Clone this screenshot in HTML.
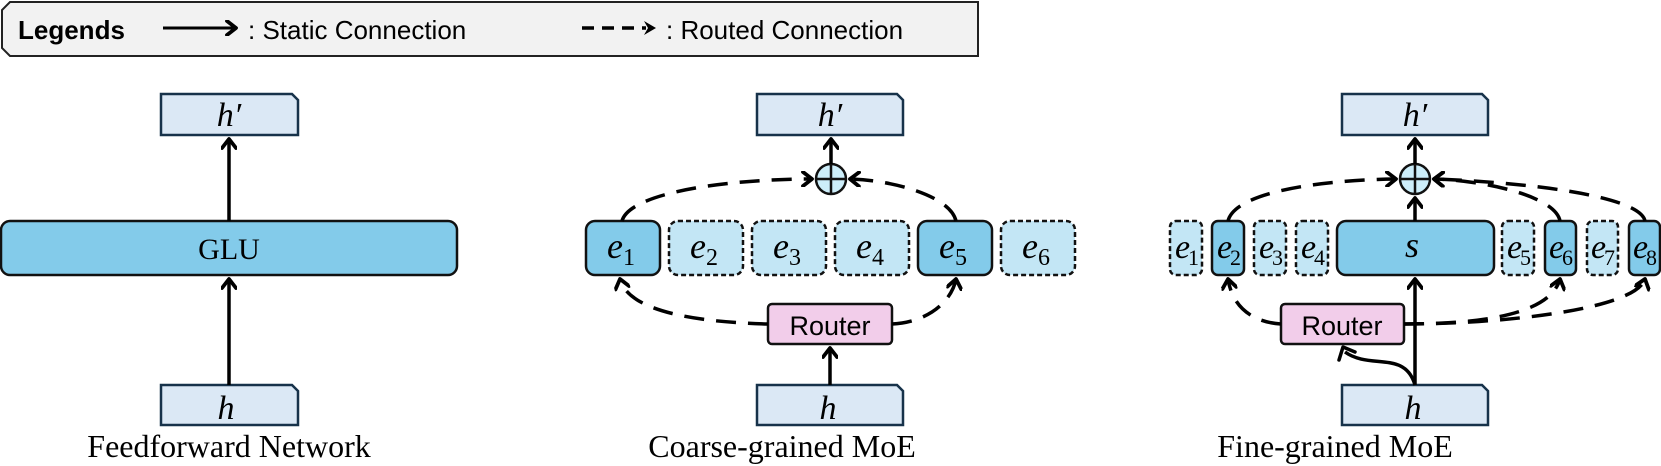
<!DOCTYPE html>
<html><head><meta charset="utf-8"><style>
html,body{margin:0;padding:0;background:#fff;}
svg{display:block}
.m{font-family:"Liberation Serif",serif;font-style:italic;}
.sub{font-family:"Liberation Serif",serif;font-style:normal;}
</style></head><body>
<svg width="1661" height="466" viewBox="0 0 1661 466" xmlns="http://www.w3.org/2000/svg">
<defs>
<marker id="a" markerWidth="16" markerHeight="16" refX="11" refY="8" orient="auto" markerUnits="userSpaceOnUse">
<path d="M2,1 L11,8 L2,15" fill="none" stroke="#000" stroke-width="3.8" stroke-linecap="round" stroke-linejoin="round"/>
</marker>
</defs>
<!-- legend -->
<path d="M10,2 L978,2 L978,56 L10,56 L2,48 L2,10 Z" fill="#f2f2f2" stroke="#222" stroke-width="2"/>
<text x="18" y="39" font-family="Liberation Sans,sans-serif" font-weight="bold" font-size="26">Legends</text>
<line x1="163" y1="28" x2="236" y2="28" stroke="#000" stroke-width="3" marker-end="url(#a)"/>
<text x="248" y="39" font-family="Liberation Sans,sans-serif" font-size="26">: Static Connection</text>
<line x1="582" y1="28" x2="646" y2="28" stroke="#000" stroke-width="3.5" stroke-dasharray="12,8"/>
<path d="M644,21 L656,28 L644,35 L648,28 Z" fill="#000"/>
<text x="666" y="39" font-family="Liberation Sans,sans-serif" font-size="26">: Routed Connection</text>

<g stroke="#17324a" stroke-width="2.5" fill="#dbe8f5">
<path d="M161,94 L292,94 L298,100 L298,135 L161,135 Z"/>
<path d="M161,385 L292,385 L298,391 L298,425 L161,425 Z"/>
<path d="M757,94 L897,94 L903,100 L903,135 L757,135 Z"/>
<path d="M757,385 L897,385 L903,391 L903,425 L757,425 Z"/>
<path d="M1342,94 L1482,94 L1488,100 L1488,135 L1342,135 Z"/>
<path d="M1342,385 L1482,385 L1488,391 L1488,425 L1342,425 Z"/>
</g>
<g class="m" font-size="34" text-anchor="middle">
<text x="229" y="126">h′</text><text x="226" y="419">h</text>
<text x="830" y="126">h′</text><text x="828" y="419">h</text>
<text x="1415" y="126">h′</text><text x="1413" y="419">h</text>
</g>

<!-- FFN -->
<rect x="1" y="221" width="456" height="54" rx="9" fill="#83cbea" stroke="#111" stroke-width="2.5"/>
<text x="229" y="259" text-anchor="middle" font-family="Liberation Serif,serif" font-size="30">GLU</text>
<line x1="229" y1="221" x2="229" y2="139" stroke="#000" stroke-width="3.5" marker-end="url(#a)"/>
<line x1="229" y1="385" x2="229" y2="279" stroke="#000" stroke-width="3.5" marker-end="url(#a)"/>

<!-- Coarse -->
<g stroke="#111" stroke-width="2.5">
<rect x="586" y="221" width="74" height="54" rx="9" fill="#83cbea"/>
<rect x="669" y="221" width="74" height="54" rx="9" fill="#c3e6f5" stroke-dasharray="5,3"/>
<rect x="752" y="221" width="74" height="54" rx="9" fill="#c3e6f5" stroke-dasharray="5,3"/>
<rect x="835" y="221" width="74" height="54" rx="9" fill="#c3e6f5" stroke-dasharray="5,3"/>
<rect x="918" y="221" width="74" height="54" rx="9" fill="#83cbea"/>
<rect x="1001" y="221" width="74" height="54" rx="9" fill="#c3e6f5" stroke-dasharray="5,3"/>
</g>
<g font-size="36" text-anchor="middle">
<text x="621" y="258" class="m">e<tspan class="sub" font-size="24" dy="7">1</tspan></text>
<text x="704" y="258" class="m">e<tspan class="sub" font-size="24" dy="7">2</tspan></text>
<text x="787" y="258" class="m">e<tspan class="sub" font-size="24" dy="7">3</tspan></text>
<text x="870" y="258" class="m">e<tspan class="sub" font-size="24" dy="7">4</tspan></text>
<text x="953" y="258" class="m">e<tspan class="sub" font-size="24" dy="7">5</tspan></text>
<text x="1036" y="258" class="m">e<tspan class="sub" font-size="24" dy="7">6</tspan></text>
</g>
<rect x="768" y="304" width="124" height="40" rx="4" fill="#f2cdea" stroke="#111" stroke-width="2.5"/>
<text x="830" y="335" text-anchor="middle" font-family="Liberation Sans,sans-serif" font-size="27">Router</text>
<line x1="830" y1="385" x2="830" y2="348" stroke="#000" stroke-width="3.5" marker-end="url(#a)"/>
<circle cx="831" cy="179" r="15" fill="#cdeefa" stroke="#111" stroke-width="2.5"/>
<path d="M816,179 H846 M831,164 V194" stroke="#111" stroke-width="2.5"/>
<line x1="831" y1="164" x2="831" y2="139" stroke="#000" stroke-width="3.5" marker-end="url(#a)"/>
<g fill="none" stroke="#000" stroke-width="3.5" stroke-dasharray="20,12">
<path d="M622,221 C630,192 730,179 812,179" marker-end="url(#a)"/>
<path d="M956,221 C950,195 890,180 850,179" marker-end="url(#a)"/>
<path d="M768,324 C690,322 628,310 620,279" marker-end="url(#a)"/>
<path d="M892,324 C930,322 952,300 956,279" marker-end="url(#a)"/>
</g>

<!-- Fine -->
<g stroke="#111" stroke-width="2.5">
<rect x="1170" y="221" width="32" height="54" rx="6" fill="#c3e6f5" stroke-dasharray="5,3"/>
<rect x="1212" y="221" width="32" height="54" rx="6" fill="#83cbea"/>
<rect x="1254" y="221" width="32" height="54" rx="6" fill="#c3e6f5" stroke-dasharray="5,3"/>
<rect x="1296" y="221" width="32" height="54" rx="6" fill="#c3e6f5" stroke-dasharray="5,3"/>
<rect x="1337" y="221" width="157" height="54" rx="9" fill="#83cbea"/>
<rect x="1502" y="221" width="32" height="54" rx="6" fill="#c3e6f5" stroke-dasharray="5,3"/>
<rect x="1545" y="221" width="31" height="54" rx="6" fill="#83cbea"/>
<rect x="1587" y="221" width="31" height="54" rx="6" fill="#c3e6f5" stroke-dasharray="5,3"/>
<rect x="1629" y="221" width="31" height="54" rx="6" fill="#83cbea"/>
</g>
<g font-size="34" text-anchor="middle">
<text x="1186" y="258" class="m" letter-spacing="-2">e<tspan class="sub" font-size="22" dy="7">1</tspan></text>
<text x="1228" y="258" class="m" letter-spacing="-2">e<tspan class="sub" font-size="22" dy="7">2</tspan></text>
<text x="1270" y="258" class="m" letter-spacing="-2">e<tspan class="sub" font-size="22" dy="7">3</tspan></text>
<text x="1312" y="258" class="m" letter-spacing="-2">e<tspan class="sub" font-size="22" dy="7">4</tspan></text>
<text x="1518" y="258" class="m" letter-spacing="-2">e<tspan class="sub" font-size="22" dy="7">5</tspan></text>
<text x="1560" y="258" class="m" letter-spacing="-2">e<tspan class="sub" font-size="22" dy="7">6</tspan></text>
<text x="1602" y="258" class="m" letter-spacing="-2">e<tspan class="sub" font-size="22" dy="7">7</tspan></text>
<text x="1644" y="258" class="m" letter-spacing="-2">e<tspan class="sub" font-size="22" dy="7">8</tspan></text>
<text x="1412" y="257" class="m" font-size="36">s</text>
</g>
<rect x="1281" y="304" width="123" height="40" rx="4" fill="#f2cdea" stroke="#111" stroke-width="2.5"/>
<text x="1342" y="335" text-anchor="middle" font-family="Liberation Sans,sans-serif" font-size="27">Router</text>
<line x1="1415" y1="385" x2="1415" y2="279" stroke="#000" stroke-width="3.5" marker-end="url(#a)"/>
<path d="M1415,385 C1405,350 1370,370 1345,352" fill="none" stroke="#000" stroke-width="3.5"/>
<path d="M1339,360 L1343,347 L1355,352" fill="none" stroke="#000" stroke-width="3.5" stroke-linecap="round" stroke-linejoin="round"/>
<line x1="1415" y1="221" x2="1415" y2="198" stroke="#000" stroke-width="3.5" marker-end="url(#a)"/>
<circle cx="1415" cy="179" r="15" fill="#cdeefa" stroke="#111" stroke-width="2.5"/>
<path d="M1400,179 H1430 M1415,164 V194" stroke="#111" stroke-width="2.5"/>
<line x1="1415" y1="164" x2="1415" y2="139" stroke="#000" stroke-width="3.5" marker-end="url(#a)"/>
<g fill="none" stroke="#000" stroke-width="3.5" stroke-dasharray="20,12">
<path d="M1228,221 C1235,192 1320,180 1396,179" marker-end="url(#a)"/>
<path d="M1560,221 C1555,195 1480,180 1434,179" marker-end="url(#a)"/>
<path d="M1645,221 C1640,195 1520,182 1434,179" marker-end="url(#a)"/>
<path d="M1281,324 C1250,322 1232,305 1228,279" marker-end="url(#a)"/>
<path d="M1404,324 C1480,324 1550,315 1560,279" marker-end="url(#a)"/>
<path d="M1404,324 C1500,324 1635,310 1645,279" marker-end="url(#a)"/>
</g>

<g font-family="Liberation Serif,serif" font-size="32" text-anchor="middle">
<text x="229" y="457">Feedforward Network</text>
<text x="782" y="457">Coarse-grained MoE</text>
<text x="1335" y="457">Fine-grained MoE</text>
</g>
</svg>
</body></html>
